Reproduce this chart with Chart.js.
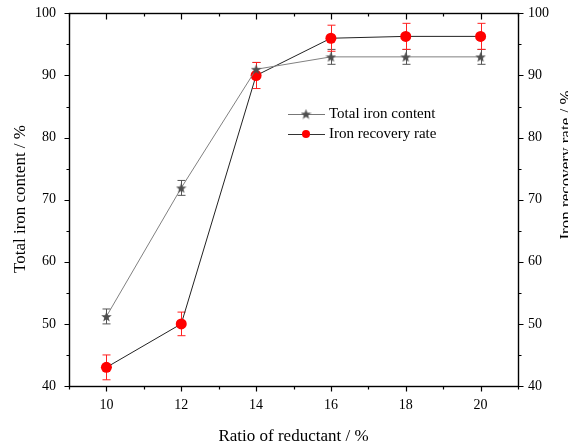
<!DOCTYPE html>
<html>
<head>
<meta charset="utf-8">
<script src="https://cdn.jsdelivr.net/npm/chart.js@4.4.0/dist/chart.umd.min.js"></script>
<style>
  html, body { margin: 0; padding: 0; background: #fff; }
  #wrap { width: 568px; height: 448px; }
</style>
</head>
<body>
<div id="wrap"><canvas id="chart" width="568" height="448"></canvas></div>
<script>
// data
const ratio = [10, 12, 14, 16, 18, 20];
const totalIron = [51.2, 71.9, 91.0, 93.0, 93.0, 93.0];
const totalIronErr = [1.2, 1.2, 1.1, 1.2, 1.2, 1.2];
const recovery = [43.0, 50.0, 90.0, 96.0, 96.3, 96.3];
const recoveryErr = [2.0, 1.9, 2.1, 2.1, 2.1, 2.1];
const xTicks = [10, 12, 14, 16, 18, 20];
const yTicks = [40, 50, 60, 70, 80, 90, 100];

const FONT = '"Liberation Serif", "DejaVu Serif", serif';

// filled five point star for the total iron markers
function makeStar(size, color) {
  const c = document.createElement('canvas');
  c.width = size; c.height = size;
  const g = c.getContext('2d');
  const cx = size / 2, cy = size / 2 + 0.5, R = size / 2, r = R * 0.42;
  g.beginPath();
  for (let i = 0; i < 10; i++) {
    const rad = i % 2 ? r : R;
    const a = -Math.PI / 2 + i * Math.PI / 5;
    g.lineTo(cx + rad * Math.cos(a), cy + rad * Math.sin(a));
  }
  g.closePath();
  g.fillStyle = color;
  g.fill();
  return c;
}
const star = makeStar(11, '#4d4d4d');

// error bars, drawn through the scales
const errorBars = {
  id: 'errorBars',
  beforeDatasetsDraw(chart) {
    const ctx = chart.ctx, x = chart.scales.x;
    const sets = [
      { y: chart.scales.y, v: totalIron, e: totalIronErr, c: '#555' },
      { y: chart.scales.y2, v: recovery, e: recoveryErr, c: '#ff2020' }
    ];
    ctx.save();
    ctx.lineWidth = 1;
    sets.forEach(s => {
      ctx.strokeStyle = s.c;
      s.v.forEach((v, i) => {
        const px = Math.round(x.getPixelForValue(ratio[i])) + 0.5;
        const top = s.y.getPixelForValue(v + s.e[i]);
        const bot = s.y.getPixelForValue(v - s.e[i]);
        ctx.beginPath();
        ctx.moveTo(px, top); ctx.lineTo(px, bot);
        ctx.moveTo(px - 4, top); ctx.lineTo(px + 4, top);
        ctx.moveTo(px - 4, bot); ctx.lineTo(px + 4, bot);
        ctx.stroke();
      });
    });
    ctx.restore();
  }
};

// frame, tick marks, axis titles and the inset legend
const frame = {
  id: 'frame',
  afterDraw(chart) {
    const ctx = chart.ctx, a = chart.chartArea;
    const x = chart.scales.x, y = chart.scales.y, y2 = chart.scales.y2;
    const L = Math.round(a.left) + 0.5, R = Math.round(a.right) + 0.5;
    const T = Math.round(a.top) + 0.5, B = Math.round(a.bottom) + 0.5;
    ctx.save();
    ctx.strokeStyle = '#000';
    ctx.lineWidth = 1.4;
    ctx.strokeRect(L, T, R - L, B - T);
    ctx.lineWidth = 1.2;
    ctx.beginPath();
    for (let v = 9; v <= 21; v++) {
      const px = Math.round(x.getPixelForValue(v)) + 0.5;
      const major = v % 2 === 0;
      ctx.moveTo(px, B); ctx.lineTo(px, B + (major ? 5 : 3));
      ctx.moveTo(px, T); ctx.lineTo(px, T + (major ? 6 : 3));
    }
    for (let v = 40; v <= 100; v += 5) {
      const major = v % 10 === 0;
      const p1 = Math.round(y.getPixelForValue(v)) + 0.5;
      ctx.moveTo(L, p1); ctx.lineTo(L - (major ? 5 : 3), p1);
      const p2 = Math.round(y2.getPixelForValue(v)) + 0.5;
      ctx.moveTo(R, p2); ctx.lineTo(R + (major ? 5 : 3), p2);
    }
    ctx.stroke();

    ctx.fillStyle = '#000';
    ctx.font = '17px ' + FONT;
    ctx.textAlign = 'center';
    ctx.textBaseline = 'middle';
    ctx.fillText('Ratio of reductant / %', (a.left + a.right) / 2, 437);
    ctx.save();
    ctx.translate(21, 199);
    ctx.rotate(-Math.PI / 2);
    ctx.fillText('Total iron content / %', 0, 0);
    ctx.restore();
    ctx.save();
    ctx.translate(567, 165);
    ctx.rotate(-Math.PI / 2);
    ctx.fillText('Iron recovery rate / %', 0, 0);
    ctx.restore();

    // legend
    ctx.font = '15px ' + FONT;
    ctx.textAlign = 'left';
    const rows = [
      { label: 'Total iron content', line: '#777', y: 114, marker: 'star' },
      { label: 'Iron recovery rate', line: '#333', y: 134, marker: 'dot' }
    ];
    rows.forEach(r => {
      ctx.strokeStyle = r.line;
      ctx.lineWidth = 1;
      ctx.beginPath();
      ctx.moveTo(288, r.y + 0.5); ctx.lineTo(325, r.y + 0.5);
      ctx.stroke();
      if (r.marker === 'star') {
        ctx.drawImage(star, 306 - 5.5, r.y - 5.5, 11, 11);
      } else {
        ctx.fillStyle = '#ff0000';
        ctx.beginPath();
        ctx.arc(306, r.y, 4, 0, Math.PI * 2);
        ctx.fill();
      }
      ctx.fillStyle = '#000';
      ctx.fillText(r.label, 329, r.y);
    });
    ctx.restore();
  }
};

new Chart(document.getElementById('chart'), {
  type: 'line',
  data: {
    datasets: [
      {
        label: 'Total iron content',
        data: ratio.map((r, i) => ({ x: r, y: totalIron[i] })),
        yAxisID: 'y',
        borderColor: '#808080',
        borderWidth: 1,
        pointStyle: star,
        pointRadius: 6,
        tension: 0
      },
      {
        label: 'Iron recovery rate',
        data: ratio.map((r, i) => ({ x: r, y: recovery[i] })),
        yAxisID: 'y2',
        borderColor: '#222',
        borderWidth: 1,
        pointStyle: 'circle',
        pointRadius: 5.5,
        pointBackgroundColor: '#ff0000',
        pointBorderColor: '#ff0000',
        pointBorderWidth: 0,
        tension: 0
      }
    ]
  },
  options: {
    responsive: false,
    animation: false,
    layout: { padding: { top: 8, left: 0, right: 0, bottom: 0 } },
    plugins: { legend: { display: false }, tooltip: { enabled: false } },
    scales: {
      x: {
        type: 'linear', min: 9, max: 21,
        afterBuildTicks: s => { s.ticks = xTicks.map(v => ({ value: v })); },
        afterFit: s => { s.height = 62; },
        grid: { display: false },
        border: { display: false },
        ticks: { color: '#000', font: { family: FONT, size: 14 }, padding: 3, maxRotation: 0 }
      },
      y: {
        position: 'left', min: 40, max: 100,
        afterBuildTicks: s => { s.ticks = yTicks.map(v => ({ value: v })); },
        afterFit: s => { s.width = 69; },
        grid: { display: false },
        border: { display: false },
        ticks: { color: '#000', font: { family: FONT, size: 14 }, padding: 5 }
      },
      y2: {
        position: 'right', min: 40, max: 100,
        afterBuildTicks: s => { s.ticks = yTicks.map(v => ({ value: v })); },
        afterFit: s => { s.width = 50; },
        grid: { display: false },
        border: { display: false },
        ticks: { color: '#000', font: { family: FONT, size: 14 }, padding: 2 }
      }
    }
  },
  plugins: [errorBars, frame]
});
</script>
</body>
</html>
